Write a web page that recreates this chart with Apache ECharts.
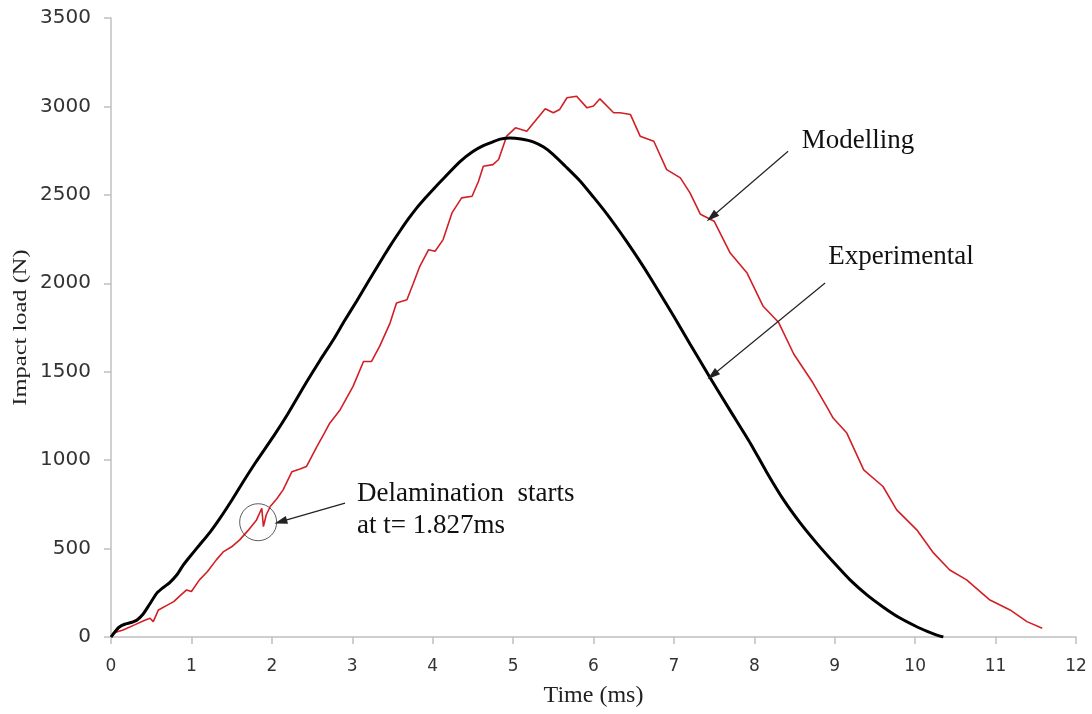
<!DOCTYPE html>
<html>
<head>
<meta charset="utf-8">
<title>Impact load vs time</title>
<script src="https://cdn.jsdelivr.net/npm/echarts@6/dist/echarts.min.js"></script>
<style>
  html, body { margin: 0; padding: 0; background: #fff; }
  #chart { width: 1092px; height: 714px; }
</style>
</head>
<body>
<div id="chart"></div>
<script>
// Impact load (N) against time (ms)
const timeTicks = [0, 1, 2, 3, 4, 5, 6, 7, 8, 9, 10, 11, 12];
const loadTicks = [0, 500, 1000, 1500, 2000, 2500, 3000, 3500];

// Experimental force history [t (ms), load (N)]
const experimental = [
  [0, 0], [0.05, 30], [0.1, 55], [0.17, 72], [0.25, 82], [0.32, 95], [0.4, 130],
  [0.48, 185], [0.57, 248], [0.65, 280], [0.73, 308], [0.82, 352], [0.9, 408],
  [0.98, 454], [1.1, 520], [1.23, 592], [1.35, 668], [1.5, 772], [1.646, 879],
  [1.8, 988], [2.02, 1134], [2.2, 1262], [2.43, 1440], [2.6, 1565], [2.765, 1681],
  [2.9, 1785], [3.056, 1900], [3.2, 2010], [3.4, 2160], [3.5, 2232], [3.6, 2300],
  [3.7, 2365], [3.8, 2425], [3.9, 2478], [4.0, 2528], [4.15, 2600], [4.34, 2688],
  [4.5, 2745], [4.63, 2778], [4.75, 2800], [4.84, 2815], [4.96, 2822], [5.1, 2816],
  [5.25, 2800], [5.38, 2770], [5.5, 2728], [5.65, 2662], [5.83, 2580], [6.0, 2487],
  [6.17, 2390], [6.33, 2290], [6.5, 2178], [6.64, 2080], [6.8, 1962], [7.0, 1812],
  [7.2, 1657], [7.45, 1466], [7.7, 1280], [7.95, 1096], [8.15, 935], [8.36, 778],
  [8.57, 645], [8.78, 528], [9.0, 415], [9.19, 323], [9.4, 238], [9.6, 170],
  [9.8, 110], [10.02, 58], [10.15, 32], [10.27, 11], [10.35, 0]
];

// Numerical model force history [t (ms), load (N)]
const modelling = [
  [0, 0], [0.05, 25], [0.15, 40], [0.3, 70], [0.42, 95], [0.485, 106], [0.525, 87],
  [0.59, 153], [0.7, 180], [0.78, 200], [0.85, 230], [0.94, 266], [1.0, 257],
  [1.1, 323], [1.2, 370], [1.31, 436], [1.4, 483], [1.5, 510], [1.6, 549], [1.7, 600],
  [1.81, 662], [1.875, 728], [1.895, 624], [1.93, 690], [1.98, 738], [2.06, 780],
  [2.14, 832], [2.25, 935], [2.35, 950], [2.43, 964], [2.56, 1077], [2.65, 1150],
  [2.72, 1209], [2.85, 1285], [3.01, 1417], [3.14, 1558], [3.24, 1558], [3.34, 1643],
  [3.47, 1775], [3.55, 1889], [3.68, 1907], [3.76, 2000], [3.84, 2096], [3.95, 2190],
  [4.03, 2181], [4.13, 2247], [4.24, 2398], [4.36, 2483], [4.49, 2492], [4.57, 2577],
  [4.63, 2662], [4.75, 2671], [4.82, 2700], [4.92, 2832], [5.03, 2879], [5.17, 2860],
  [5.29, 2926], [5.4, 2987], [5.5, 2964], [5.58, 2983], [5.67, 3049], [5.79, 3058],
  [5.92, 2992], [6.0, 3002], [6.08, 3043], [6.25, 2964], [6.33, 2964], [6.46, 2954],
  [6.58, 2832], [6.75, 2803], [6.91, 2643], [7.08, 2596], [7.2, 2511], [7.33, 2390],
  [7.5, 2351], [7.7, 2171], [7.91, 2058], [8.11, 1870], [8.3, 1780], [8.49, 1600],
  [8.73, 1436], [8.9, 1303], [8.98, 1238], [9.15, 1153], [9.36, 945], [9.6, 851],
  [9.77, 719], [10.02, 606], [10.23, 474], [10.43, 379], [10.64, 323], [10.93, 209],
  [11.18, 153], [11.39, 87], [11.58, 49]
];

// Onset of delamination marker
const delaminationPoint = [1.83, 649];

// Annotation arrows: [from, to] in data units
const arrows = [
  [[8.42, 2747], [7.47, 2375]],
  [[8.88, 2002], [7.48, 1480]],
  [[2.91, 757], [2.11, 652]]
];

// Annotation texts: [t, load, lines]
const notes = [
  [8.59, 2807, ['Modelling']],
  [8.92, 2149, ['Experimental']],
  [3.06, 809, ['Delamination  starts', 'at t= 1.827ms']]
];

const serif = '"Liberation Serif", "Times New Roman", serif';
const sans = '"DejaVu Sans", Verdana, sans-serif';
const axisGrey = '#c0c0c0';

const chart = echarts.init(document.getElementById('chart'), null, { renderer: 'canvas' });

chart.setOption({
  backgroundColor: '#ffffff',
  animation: false,
  grid: { left: 111, right: 16, top: 18, bottom: 77, containLabel: false },
  xAxis: {
    type: 'value',
    min: timeTicks[0],
    max: timeTicks[timeTicks.length - 1],
    interval: 1,
    name: 'Time (ms)',
    nameLocation: 'middle',
    nameGap: 47,
    nameTextStyle: { fontFamily: serif, fontSize: 24, color: '#222' },
    axisLine: { show: true, lineStyle: { color: axisGrey, width: 1.5 } },
    axisTick: { show: true, inside: false, length: 7, lineStyle: { color: axisGrey, width: 1.5 } },
    axisLabel: { margin: 21, fontFamily: sans, fontSize: 17, color: '#333', formatter: v => String(v) },
    splitLine: { show: false }
  },
  yAxis: {
    type: 'value',
    min: loadTicks[0],
    max: loadTicks[loadTicks.length - 1],
    interval: 500,
    axisLine: { show: true, lineStyle: { color: axisGrey, width: 1.5 } },
    axisTick: { show: true, inside: false, length: 7, lineStyle: { color: axisGrey, width: 1.5 } },
    axisLabel: { margin: 20, fontFamily: sans, fontSize: 20, color: '#333', formatter: v => String(v) },
    splitLine: { show: false }
  },
  series: [
    {
      name: 'Experimental',
      type: 'line',
      data: experimental,
      showSymbol: false,
      smooth: 0.2,
      lineStyle: { color: '#000000', width: 3 },
      z: 3,
      markLine: {
        silent: true,
        symbol: ['none', 'triangle'],
        symbolSize: [8, 13],
        label: { show: false },
        lineStyle: { color: '#222', width: 1.2, type: 'solid' },
        emphasis: { disabled: true },
        data: arrows.map(a => [{ coord: a[0] }, { coord: a[1] }])
      }
    },
    {
      name: 'Modelling',
      type: 'line',
      data: modelling,
      showSymbol: false,
      lineStyle: { color: '#d21f26', width: 1.6 },
      z: 2
    },
    {
      name: 'Delamination',
      type: 'scatter',
      data: [delaminationPoint],
      symbol: 'circle',
      symbolSize: 37,
      itemStyle: { color: 'rgba(0,0,0,0)', borderColor: '#333', borderWidth: 1 },
      silent: true,
      z: 4
    }
  ]
});

// Text annotations and the vertical axis title
function drawAnnotations() {
  const elements = [];
  notes.forEach(n => {
    n[2].forEach((line, i) => {
      const p = chart.convertToPixel({ gridIndex: 0 }, [n[0], n[1]]);
      elements.push({
        type: 'text',
        x: p[0],
        y: p[1] + i * 31.5,
        silent: true,
        style: {
          text: line,
          font: '27px ' + serif,
          fill: '#111',
          align: 'left',
          verticalAlign: 'middle'
        }
      });
    });
  });
  const mid = chart.convertToPixel({ gridIndex: 0 }, [0, (loadTicks[0] + loadTicks[loadTicks.length - 1]) / 2]);
  elements.push({
    type: 'text',
    x: mid[0] - 90,
    y: mid[1],
    rotation: Math.PI / 2,
    scaleX: 1.36,
    silent: true,
    style: {
      text: 'Impact load (N)',
      font: '18px ' + serif,
      fill: '#222',
      align: 'center',
      verticalAlign: 'middle'
    }
  });
  chart.setOption({ graphic: elements });
}
drawAnnotations();
</script>
</body>
</html>
